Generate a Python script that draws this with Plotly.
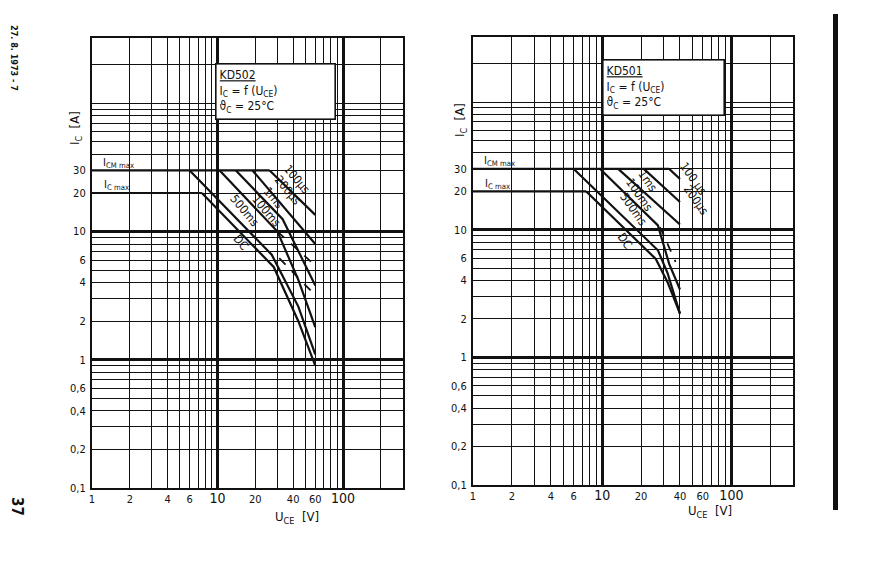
import math
import plotly.graph_objects as go

# ---------------- data ----------------
x_tick_vals = [1, 2, 4, 6, 10, 20, 40, 60, 100]
x_tick_text = ["1", "2", "4", "6", "<span style='font-size:14px'>10</span>", "20", "40", "60",
               "<span style='font-size:14px'>100</span>"]
x_minor_vals = [3, 5, 7, 8, 9, 30, 50, 70, 80, 90, 200]
x_decades = [10, 100]

y_tick_vals = [0.1, 0.2, 0.4, 0.6, 1, 2, 4, 6, 10, 20, 30]
y_tick_text = ["0,1", "0,2", "0,4", "0,6", "1", "2", "4", "6", "10", "20", "30"]
y_minor_vals = [0.3, 0.5, 0.7, 0.8, 0.9, 3, 5, 7, 8, 9, 40, 50, 60, 70, 80, 90, 100, 200]
y_decades = [1, 10]

# KD502 (left)
kd502_icm_u = [1, 26]
kd502_icm_i = [30, 30]
kd502_ic_u = [1, 7.5]
kd502_ic_i = [20, 20]
kd502_100us_u = [26, 60]
kd502_100us_i = [30, 13.5]
kd502_200us_u = [19, 60]
kd502_200us_i = [30, 8]
kd502_1ms_u = [14, 33, 60]
kd502_1ms_i = [30, 12.5, 3.8]
kd502_100ms_u = [10.4, 30, 44, 60]
kd502_100ms_i = [30, 10, 4.2, 1.8]
kd502_500ms_u = [6, 27, 44, 60]
kd502_500ms_i = [30, 6.6, 2.6, 1.1]
kd502_dc_u = [7.5, 28, 44, 60]
kd502_dc_i = [20, 5.3, 2.0, 0.9]
kd502_dash1_u = [30, 58]
kd502_dash1_i = [10, 5.6]
kd502_dash2_u = [31, 58]
kd502_dash2_i = [6.2, 3.3]

# KD501 (right)
kd501_icm_u = [1, 33]
kd501_icm_i = [30, 30]
kd501_ic_u = [1, 7.5]
kd501_ic_i = [20, 20]
kd501_100us_u = [33, 40]
kd501_100us_i = [30, 25]
kd501_200us_u = [21, 40]
kd501_200us_i = [30, 16.5]
kd501_1ms_u = [13.3, 40]
kd501_1ms_i = [30, 11]
kd501_100ms_u = [9.6, 27, 33, 40]
kd501_100ms_i = [30, 10.8, 5.4, 3.4]
kd501_500ms_u = [6, 27, 32, 40]
kd501_500ms_i = [30, 6.9, 4.6, 2.2]
kd501_dc_u = [7.5, 26, 32, 40]
kd501_dc_i = [20, 5.9, 3.9, 2.2]
kd501_dash_u = [28, 37]
kd501_dash_i = [10.5, 5.6]

# curve labels: (text, U, I)
kd502_labels = [("100µs", 42.5, 25.5), ("200µs", 36.0, 21.0), ("1ms", 28.0, 18.3),
                ("100ms", 24.5, 14.5), ("500ms", 16.5, 14.5), ("DC", 15.5, 8.2)]
kd501_labels = [("100 µs", 51, 25), ("200µs", 53, 17.0), ("1ms", 22.5, 24.0),
                ("100ms", 19.5, 18.8), ("500ms", 17.4, 14.5), ("DC", 15.0, 8.2)]

FONT = "DejaVu Sans Condensed, DejaVu Sans, sans-serif"
INK = "#111111"
OFF = 8  # page body margin in the browser


def px(x):
    return (x - OFF) / 871


def py(y):
    return 1 - (y - OFF) / 563


fig = go.Figure()


def add_line(u, i, xa, ya, width=2.2, dash="solid"):
    fig.add_trace(go.Scatter(x=u, y=i, mode="lines", xaxis=xa, yaxis=ya,
                             line=dict(color=INK, width=width, dash=dash),
                             showlegend=False, hoverinfo="skip"))


for u, i in [(kd502_icm_u, kd502_icm_i), (kd502_ic_u, kd502_ic_i),
             (kd502_100us_u, kd502_100us_i), (kd502_200us_u, kd502_200us_i),
             (kd502_1ms_u, kd502_1ms_i), (kd502_100ms_u, kd502_100ms_i),
             (kd502_500ms_u, kd502_500ms_i), (kd502_dc_u, kd502_dc_i)]:
    add_line(u, i, "x", "y")
add_line(kd502_dash1_u, kd502_dash1_i, "x", "y", 1.8, "dash")
add_line(kd502_dash2_u, kd502_dash2_i, "x", "y", 1.8, "dash")

for u, i in [(kd501_icm_u, kd501_icm_i), (kd501_ic_u, kd501_ic_i),
             (kd501_100us_u, kd501_100us_i), (kd501_200us_u, kd501_200us_i),
             (kd501_1ms_u, kd501_1ms_i), (kd501_100ms_u, kd501_100ms_i),
             (kd501_500ms_u, kd501_500ms_i), (kd501_dc_u, kd501_dc_i)]:
    add_line(u, i, "x2", "y2")
add_line(kd501_dash_u, kd501_dash_i, "x2", "y2", 1.8, "dash")

fig.add_trace(go.Scatter(x=[], y=[], xaxis="x3", yaxis="y3", showlegend=False))
fig.add_trace(go.Scatter(x=[], y=[], xaxis="x4", yaxis="y4", showlegend=False))

XR = [0, 2.477]
YR = [-1, 2.51]


def xax(domain, anchor):
    return dict(type="log", range=XR, domain=domain, anchor=anchor, tickmode="array",
                tickvals=x_tick_vals, ticktext=x_tick_text, ticks="",
                showgrid=True, gridcolor=INK, gridwidth=1.3,
                minor=dict(tickmode="array", tickvals=x_minor_vals, showgrid=True,
                           gridcolor=INK, gridwidth=1.3, ticks=""),
                showline=True, linecolor=INK, linewidth=2.2, mirror=True,
                zeroline=False, tickfont=dict(family=FONT, size=11, color=INK),
                automargin=False, fixedrange=True)


def yax(domain, anchor):
    return dict(type="log", range=YR, domain=domain, anchor=anchor, tickmode="array",
                tickvals=y_tick_vals, ticktext=y_tick_text, ticks="",
                showgrid=True, gridcolor=INK, gridwidth=1.3,
                minor=dict(tickmode="array", tickvals=y_minor_vals, showgrid=True,
                           gridcolor=INK, gridwidth=1.3, ticks=""),
                showline=True, linecolor=INK, linewidth=2.2, mirror=True,
                zeroline=False, tickfont=dict(family=FONT, size=11, color=INK),
                ticklabelstandoff=2, automargin=False, fixedrange=True)


def xov(over, anchor):
    return dict(type="log", range=XR, overlaying=over, anchor=anchor, tickmode="array",
                tickvals=x_decades, showticklabels=False, ticks="", showgrid=True,
                gridcolor=INK, gridwidth=2.6, showline=False, zeroline=False,
                automargin=False, fixedrange=True)


def yov(over, anchor):
    return dict(type="log", range=YR, overlaying=over, anchor=anchor, tickmode="array",
                tickvals=y_decades, showticklabels=False, ticks="", showgrid=True,
                gridcolor=INK, gridwidth=2.6, showline=False, zeroline=False,
                automargin=False, fixedrange=True)


LX = [px(92), px(403)]
LY = [py(488), py(38)]
RX = [px(473), px(793)]
RY = [py(485), py(37)]

fig.update_layout(
    width=871, height=563,
    margin=dict(l=0, r=0, t=0, b=0, autoexpand=False),
    paper_bgcolor="white", plot_bgcolor="white",
    xaxis=xax(LX, "y"), yaxis=yax(LY, "x"),
    xaxis2=xax(RX, "y2"), yaxis2=yax(RY, "x2"),
    xaxis3=xov("x", "y3"), yaxis3=yov("y", "x3"),
    xaxis4=xov("x2", "y4"), yaxis4=yov("y2", "x4"),
    font=dict(family=FONT, color=INK),
)

ann = []
for txt, u, i in kd502_labels:
    ann.append(dict(text=txt, x=math.log10(u), y=math.log10(i), xref="x", yref="y",
                    xanchor="center", yanchor="middle",
                    showarrow=False, textangle=50, font=dict(size=12, family=FONT, color=INK)))
for txt, u, i in kd501_labels:
    ann.append(dict(text=txt, x=math.log10(u), y=math.log10(i), xref="x2", yref="y2",
                    xanchor="center", yanchor="middle",
                    showarrow=False, textangle=55, font=dict(size=12, family=FONT, color=INK)))

for xr, yr in [("x", "y"), ("x2", "y2")]:
    ann.append(dict(text="I<sub>CM max</sub>", x=0.07, y=1.535, xref=xr, yref=yr,
                    xanchor="left", yanchor="middle", showarrow=False,
                    font=dict(size=11, family=FONT, color=INK)))
    ann.append(dict(text="I<sub>C max</sub>", x=0.08, y=1.36, xref=xr, yref=yr,
                    xanchor="left", yanchor="middle", showarrow=False,
                    font=dict(size=11, family=FONT, color=INK)))

ann.append(dict(text="<u>KD502</u><br>I<sub>C</sub> = f (U<sub>CE</sub>)<br>ϑ<sub>C</sub> = 25°C",
                x=0.395, y=0.944, xref="x domain", yref="y domain", xanchor="left", yanchor="top",
                align="left", showarrow=False, bgcolor="white", bordercolor=INK, borderwidth=1.6,
                borderpad=3, width=112, height=48, font=dict(size=12, family=FONT, color=INK)))
ann.append(dict(text="<u>KD501</u><br>I<sub>C</sub> = f (U<sub>CE</sub>)<br>ϑ<sub>C</sub> = 25°C",
                x=0.402, y=0.952, xref="x2 domain", yref="y2 domain", xanchor="left", yanchor="top",
                align="left", showarrow=False, bgcolor="white", bordercolor=INK, borderwidth=1.6,
                borderpad=3, width=114, height=48, font=dict(size=12, family=FONT, color=INK)))

paper_texts = [
    ("I<sub>C</sub>  [A]", 76, 128, -90, 13),
    ("I<sub>C</sub>  [A]", 460, 120, -90, 13),
    ("U<sub>CE</sub>  [V]", 297, 517, 0, 13),
    ("U<sub>CE</sub>  [V]", 710, 511, 0, 13),
    ("<b>27. 8. 1973 - 7</b>", 14, 58, 90, 9),
    ("<b>37</b>", 17, 506, 90, 15),
]
for txt, xp, yp, ang, sz in paper_texts:
    ann.append(dict(text=txt, x=px(xp), y=py(yp), xref="paper", yref="paper",
                    xanchor="center", yanchor="middle", showarrow=False, textangle=ang,
                    font=dict(size=sz, family=FONT, color=INK)))

fig.update_layout(annotations=ann)

fig.add_shape(type="rect", xref="paper", yref="paper", x0=px(833), x1=px(838),
              y0=py(510), y1=py(14), fillcolor=INK, line=dict(width=0))

fig.write_html("out.html")
